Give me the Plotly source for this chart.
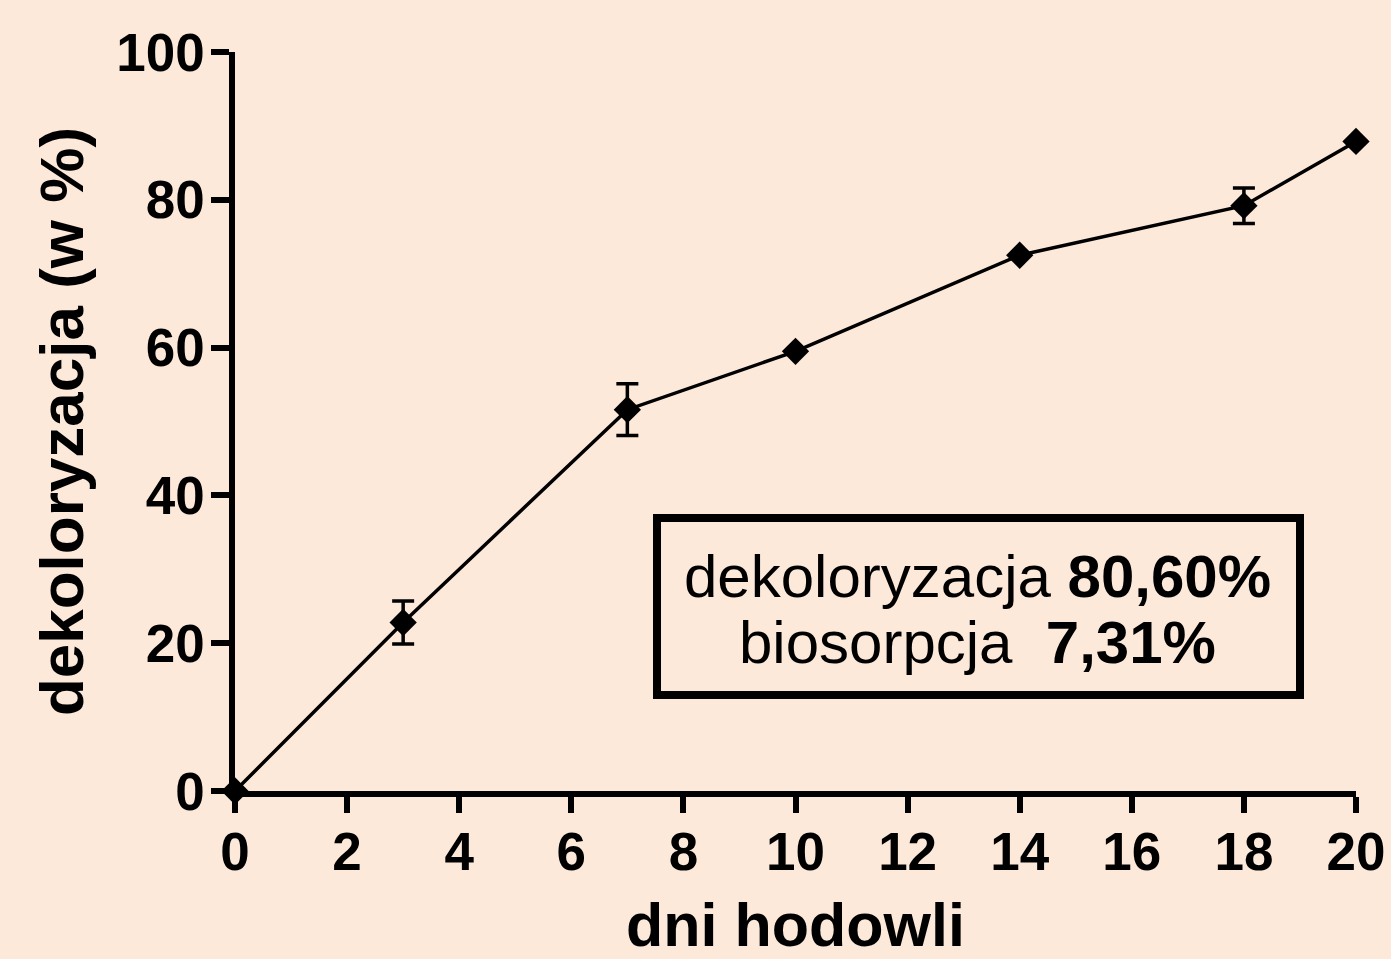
import plotly.graph_objects as go

# Decolorization over cultivation time
days = [0, 3, 7, 10, 14, 18, 20]
decolor = [0, 22.8, 51.6, 59.5, 72.5, 79.2, 87.9]
decolor_err = [0, 2.9, 3.5, 0, 0, 2.4, 0]

x_ticks = [0, 2, 4, 6, 8, 10, 12, 14, 16, 18, 20]
y_ticks = [0, 20, 40, 60, 80, 100]

summary_lines = [
    "dekoloryzacja <b>80,60%</b>",
    "biosorpcja&nbsp;&nbsp;<b>7,31%</b>",
]

BG = "rgb(253,233,217)"
FONT = "Liberation Sans"

fig = go.Figure()
fig.add_trace(go.Scatter(
    x=days, y=decolor,
    mode="lines+markers",
    line=dict(color="black", width=3.5),
    marker=dict(symbol="diamond", size=21, color="black"),
    error_y=dict(type="data", array=decolor_err, visible=True,
                 color="black", thickness=3.5, width=11),
    cliponaxis=False,
    showlegend=False,
))

# Summary box
fig.add_shape(type="rect", xref="paper", yref="paper",
              x0=(657 - 235) / 1121, x1=(1300 - 235) / 1121,
              y0=(791 - 695) / 739, y1=(791 - 518) / 739,
              line=dict(color="black", width=8), fillcolor="rgba(0,0,0,0)")
for i, txt in enumerate(summary_lines):
    fig.add_annotation(xref="paper", yref="paper",
                       x=(977 - 235) / 1121, y=(791 - (576 + 66 * i)) / 739,
                       text=txt, showarrow=False, xanchor="center", yanchor="middle",
                       font=dict(family=FONT, size=60, color="black"))

axis_common = dict(
    showgrid=False, zeroline=False, showline=True, automargin=False,
    linecolor="black", linewidth=5.5,
    ticks="outside", tickcolor="black", tickwidth=5.5,
    tickfont=dict(family=FONT, size=53, color="black", weight="bold"),
)

fig.update_xaxes(range=[0, 20], tickvals=x_ticks, ticklen=16, ticklabelstandoff=-6,
                 title=dict(text="<b>dni hodowli</b>", standoff=27,
                            font=dict(family=FONT, size=61, color="black")),
                 **axis_common)
fig.update_yaxes(range=[0, 100], tickvals=y_ticks, ticklen=18, ticklabelstandoff=-4,
                 title=dict(text="<b>dekoloryzacja (w %)</b>", standoff=15,
                            font=dict(family=FONT, size=62, color="black")),
                 **axis_common)

fig.update_layout(
    width=1391, height=959,
    margin=dict(l=235, r=35, t=52, b=168),
    paper_bgcolor=BG, plot_bgcolor=BG,
    font=dict(family=FONT, color="black"),
)

fig.write_html("out.html")
